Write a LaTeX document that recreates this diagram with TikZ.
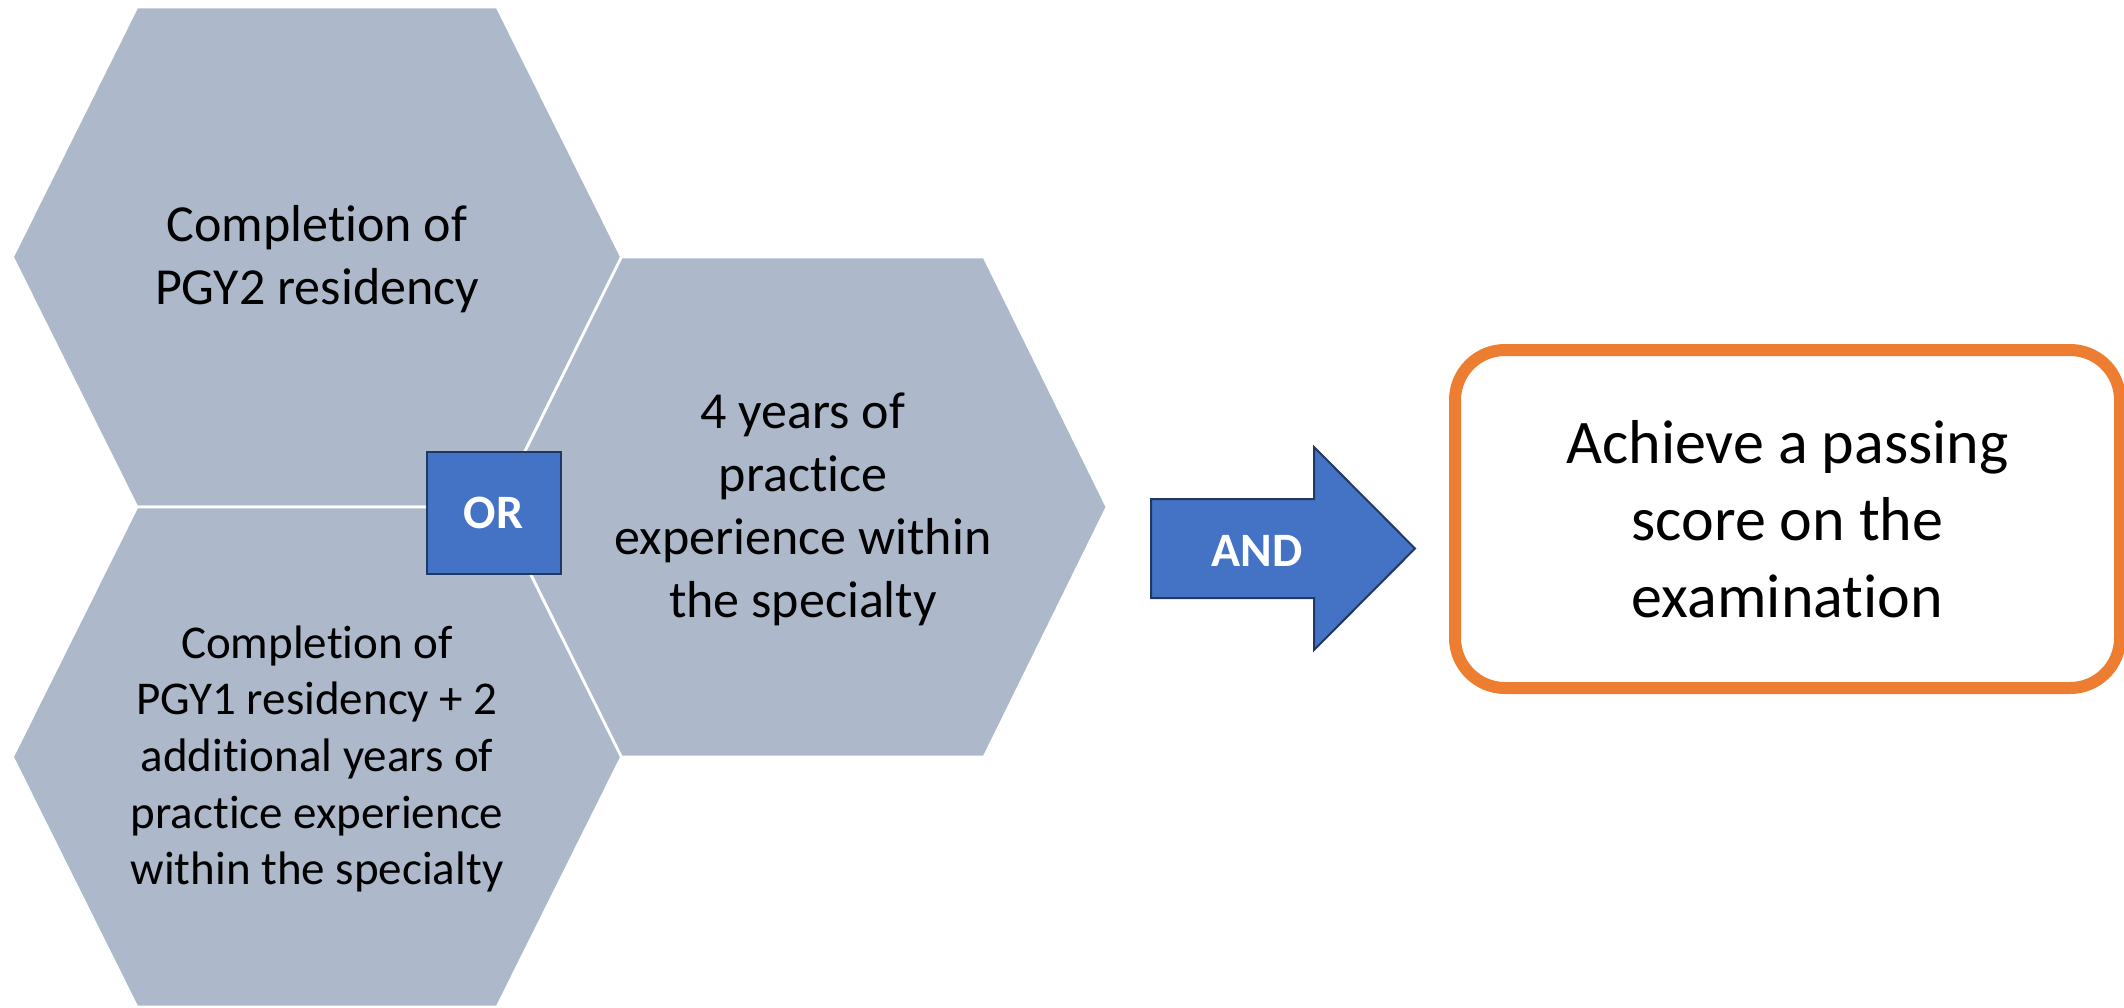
\documentclass[tikz,border=0pt]{standalone}
\usepackage{fontspec}
\setmainfont{Carlito}[Ligatures={NoCommon}]
\definecolor{hexfill}{HTML}{ADB9CA}
\definecolor{accblue}{HTML}{4472C4}
\definecolor{navyline}{HTML}{203864}
\definecolor{orng}{HTML}{ED7D31}
\begin{document}
\begin{tikzpicture}[x=0.5pt,y=-0.5pt,
  hexshape/.style={fill=hexfill,draw=white,line width=1.3pt,line join=miter},
  hextext/.style={align=center,text=black,inner sep=0pt,font=\fontsize{26}{31.5}\selectfont},
  hextextsmall/.style={align=center,text=black,inner sep=0pt,font=\fontsize{23.5}{28.3}\selectfont},
  logicbox/.style={fill=accblue,draw=navyline,line width=1pt},
  logictext/.style={text=white,inner sep=0pt,font=\fontsize{24}{28}\selectfont\bfseries},
  goalbox/.style={draw=orng,fill=white,line width=6pt,rounded corners=25pt,align=center,
    font=\fontsize{31}{38.5}\selectfont,text=black}]
\useasboundingbox (0,0) rectangle (2124,1007);
% top hexagon
\path[hexshape] (12.5,257) -- (137,7) -- (497,7) -- (621.5,257) -- (497,507) -- (137,507) -- cycle;
\node[hextext] (top) at (317,259) {Completion of\\PGY2 residency};
% bottom hexagon
\path[hexshape] (12.5,757) -- (137,507) -- (497,507) -- (621.5,757) -- (497,1007) -- (137,1007) -- cycle;
\node[hextextsmall] (bottom) at (317,759) {Completion of\\PGY1 residency + 2\\additional years of\\practice experience\\within the specialty};
% right hexagon
\path[hexshape] (497.5,507) -- (621.5,257) -- (984,257) -- (1107,507) -- (984,757) -- (621.5,757) -- cycle;
\node[hextext] (right) at (803,509) {4 years of\\practice\\experience within\\the specialty};
% OR box
\node[logicbox,minimum width=67pt,minimum height=61pt,inner sep=0pt] (orbox) at (493.5,512.5) {};
\node[logictext] (ortext) at (orbox.center) {OR};
% AND arrow
\path[logicbox,line join=miter] (1151,499) -- (1314,499) -- (1314,447) -- (1415,548.5) -- (1314,650) -- (1314,598) -- (1151,598) -- cycle;
\node[logictext] (andtext) at (1257,551) {AND};
% goal box
\node[goalbox,minimum width=332.5pt,minimum height=169pt,inner sep=0pt] (goal) at (1787.5,519)
  {Achieve a passing\\score on the\\examination};
\end{tikzpicture}
\end{document}
